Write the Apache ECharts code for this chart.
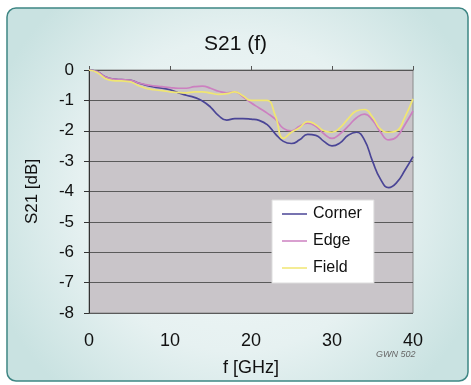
<!doctype html>
<html>
    <head>
        <meta charset="utf-8">
        <title>S21 (f)</title>
        <style>
            html, body { margin: 0; padding: 0; background: #fff; }
            #main { width: 471px; height: 385px; }
        </style>
    </head>
    <body>
        <div id="main"></div>
        <script src="https://cdn.jsdelivr.net/npm/echarts@6/dist/echarts.min.js"></script>
        <script>
            var freq = [0, 1, 2, 3, 4, 5, 6, 7, 8, 9, 10, 11, 12, 13, 14, 15, 16, 17, 18, 19, 20,
                21, 22, 23, 24, 25, 26, 27, 28, 29, 30, 31, 32, 33, 34, 35, 36, 37, 38, 39, 40];
            var corner = [0, -0.05, -0.22, -0.3, -0.32, -0.33, -0.42, -0.5, -0.56, -0.6, -0.65,
                -0.75, -0.83, -0.9, -1.02, -1.22, -1.5, -1.65, -1.6, -1.6, -1.62,
                -1.66, -1.8, -2.1, -2.35, -2.42, -2.3, -2.12, -2.15, -2.35, -2.5,
                -2.4, -2.15, -2.05, -2.3, -3.0, -3.6, -3.87, -3.7, -3.3, -2.85];
            var edge = [0, -0.05, -0.22, -0.3, -0.32, -0.33, -0.42, -0.48, -0.52, -0.55, -0.58,
                -0.6, -0.6, -0.55, -0.53, -0.6, -0.7, -0.75, -0.72, -0.88, -1.08,
                -1.25, -1.42, -1.62, -1.92, -2.0, -1.85, -1.75, -1.85, -2.1, -2.25,
                -2.1, -1.85, -1.58, -1.45, -1.65, -2.05, -2.3, -2.2, -1.8, -1.35];
            var field = [0, -0.08, -0.28, -0.35, -0.36, -0.38, -0.5, -0.6, -0.65, -0.68, -0.72,
                -0.74, -0.75, -0.72, -0.72, -0.76, -0.8, -0.78, -0.72, -0.85, -1.0,
                -1.0, -1.0, -1.5, -2.25, -2.05, -1.9, -1.7, -1.8, -2.0, -2.05,
                -1.9, -1.6, -1.35, -1.3, -1.55, -1.95, -2.05, -2.0, -1.55, -0.95];
            var seriesNames = ['Corner', 'Edge', 'Field'];
            var seriesColors = ['#4a4596', '#cc80c0', '#f0e672'];

            function pairs(ys) {
                return freq.map(function (f, i) { return [f, ys[i]]; });
            }

            var font = 'Liberation Sans, Arial, sans-serif';
            var chart = echarts.init(document.getElementById('main'));

            chart.setOption({
                backgroundColor: '#fff',
                animation: false,
                graphic: [{
                    type: 'rect',
                    z: -10,
                    shape: { x: 7, y: 8, width: 461, height: 373, r: 9 },
                    style: {
                        fill: new echarts.graphic.RadialGradient(0.5, 0.5, 0.7, [
                            { offset: 0, color: '#f3f8f8' },
                            { offset: 0.6, color: '#e6f1f1' },
                            { offset: 1, color: '#c9e2e1' }
                        ]),
                        stroke: '#3e8684',
                        lineWidth: 1.5
                    }
                }, {
                    type: 'text',
                    left: 376,
                    top: 350,
                    style: {
                        text: 'GWN 502',
                        fill: '#666',
                        font: 'italic 9px Liberation Sans Narrow, Arial, sans-serif'
                    }
                }],
                title: {
                    text: 'S21 (f)',
                    left: 'center',
                    top: 29,
                    textStyle: { fontSize: 21, fontWeight: 'normal', color: '#111', fontFamily: font }
                },
                legend: {
                    data: seriesNames.map(function (n) {
                        return { name: n, icon: 'rect' };
                    }),
                    orient: 'vertical',
                    left: 272,
                    top: 200,
                    padding: [6, 12, 7, 10],
                    itemWidth: 25,
                    itemHeight: 1.5,
                    itemGap: 11,
                    backgroundColor: '#fff',
                    borderColor: '#ddd',
                    borderWidth: 1,
                    textStyle: { fontSize: 16, color: '#111', fontFamily: font, padding: [0, 0, 0, 1] }
                },
                grid: {
                    left: 89,
                    right: 58,
                    top: 70,
                    bottom: 72,
                    show: true,
                    backgroundColor: '#c9c5c9',
                    borderColor: '#8a8a8a',
                    borderWidth: 1
                },
                xAxis: [{
                    type: 'value',
                    min: 0,
                    max: 40,
                    interval: 10,
                    position: 'bottom',
                    name: 'f [GHz]',
                    nameLocation: 'middle',
                    nameGap: 46,
                    nameTextStyle: { fontSize: 18, color: '#111', fontFamily: font },
                    axisLine: { show: false },
                    axisTick: { show: false },
                    splitLine: { show: false },
                    axisLabel: { fontSize: 18, color: '#111', fontFamily: font, margin: 19 }
                }, {
                    type: 'value',
                    min: 0,
                    max: 40,
                    interval: 10,
                    position: 'top',
                    axisLine: { show: true, lineStyle: { color: '#555', width: 1 } },
                    axisTick: { show: true, length: 4, lineStyle: { color: '#555' } },
                    axisLabel: { show: false },
                    splitLine: { show: false }
                }],
                yAxis: {
                    type: 'value',
                    min: -8,
                    max: 0,
                    interval: 1,
                    name: 'S21 [dB]',
                    nameLocation: 'middle',
                    nameGap: 48,
                    nameTextStyle: { fontSize: 17, color: '#111', fontFamily: font },
                    axisLine: { show: true, lineStyle: { color: '#333', width: 1 } },
                    axisTick: { show: true, length: 5, lineStyle: { color: '#333' } },
                    axisLabel: { fontSize: 17, color: '#111', fontFamily: font, margin: 15 },
                    splitLine: { show: true, lineStyle: { color: '#5a5a5a', width: 1 } }
                },
                series: seriesNames.map(function (name, k) {
                    return {
                        name: name,
                        type: 'line',
                        xAxisIndex: 0,
                        data: pairs([corner, edge, field][k]),
                        smooth: 0.5,
                        symbol: 'none',
                        color: seriesColors[k],
                        itemStyle: { color: seriesColors[k] },
                        lineStyle: { width: 1.7, color: seriesColors[k] }
                    };
                })
            });

            window.addEventListener('resize', function () {
                chart.resize();
            });
        </script>
    </body>
</html>
